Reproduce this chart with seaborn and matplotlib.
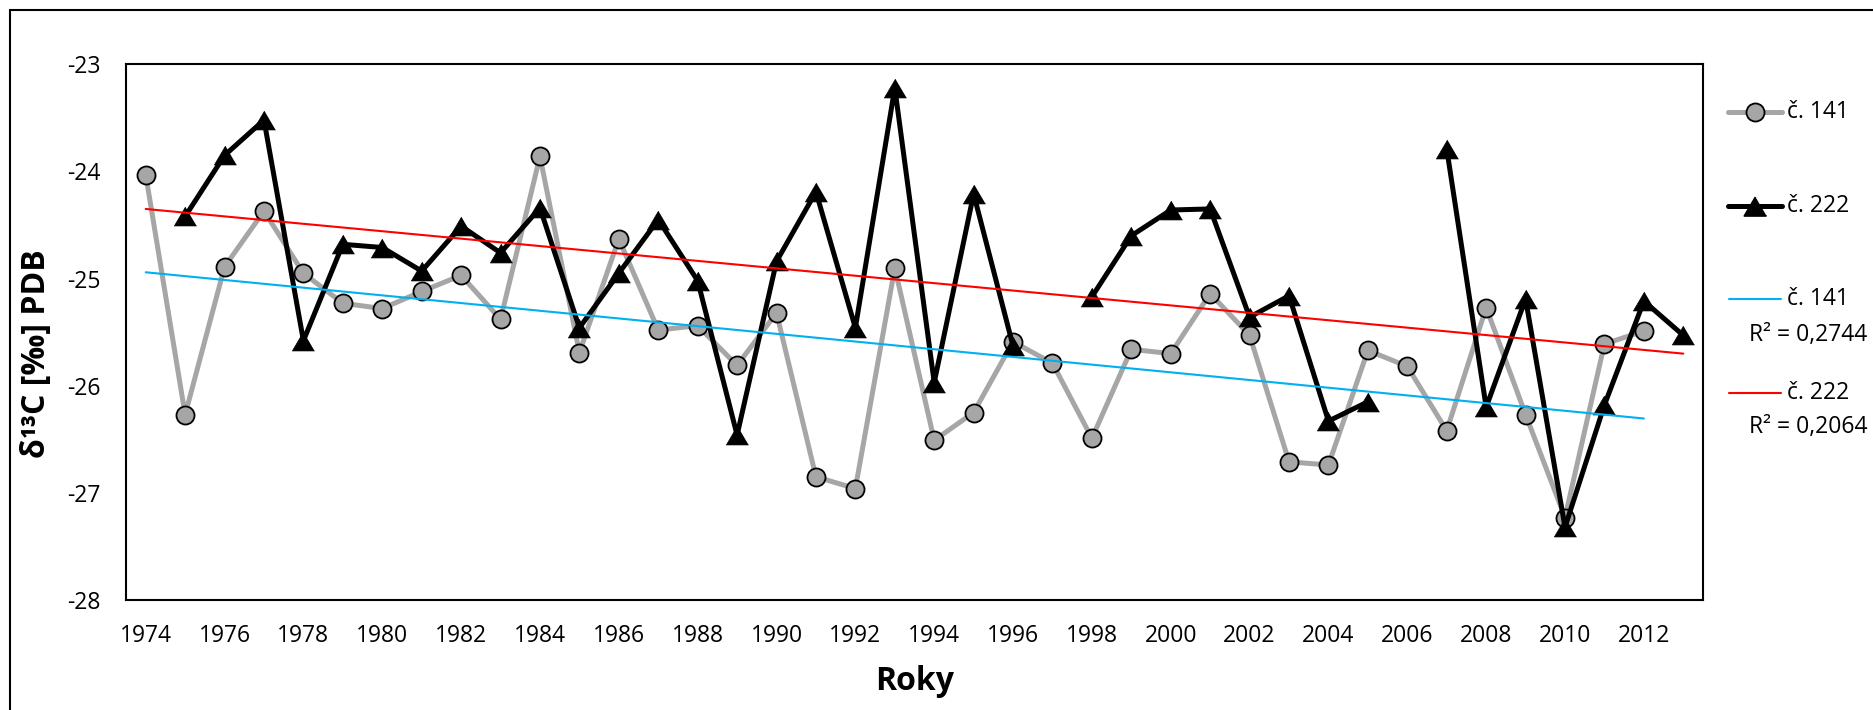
import numpy as np
import pandas as pd
import matplotlib
matplotlib.use("Agg")
import matplotlib.pyplot as plt
from matplotlib.lines import Line2D
from matplotlib.patches import Rectangle
import seaborn as sns

# Annual δ13C values for two trees, 1974–2013 (nan = no measurement)
years = list(range(1974, 2014))
c141 = [-24.03, -26.27, -24.89, -24.37, -24.95, -25.23, -25.28, -25.12, -24.97, -25.38,
        -23.86, -25.69, -24.63, -25.48, -25.44, -25.81, -25.32, -26.85, -26.96, -24.90,
        -26.51, -26.25, -25.59, -25.79, -26.49, -25.66, -25.70, -25.14, -25.53, -26.71,
        -26.74, -25.67, -25.82, -26.42, -25.27, -26.27, -27.23, -25.61, -25.49, np.nan]
c222 = [np.nan, -24.42, -23.85, -23.52, -25.58, -24.68, -24.71, -24.93, -24.51, -24.76,
        -24.34, -25.46, -24.95, -24.45, -25.02, -26.46, -24.84, -24.19, -25.46, -23.22,
        -25.97, -24.21, -25.63, np.nan, -25.17, -24.60, -24.36, -24.35, -25.36, -25.16,
        -26.33, -26.15, np.nan, -23.79, -26.20, -25.19, -27.32, -26.18, -25.21, -25.53]
series_names = ["č. 141", "č. 222"]
r2_labels = ["R² = 0,2744", "R² = 0,2064"]
y_ticks = [-28, -27, -26, -25, -24, -23]
x_ticks = list(range(1974, 2013, 2))
x_label = "Roky"
y_label = "δ¹³C [‰] PDB"

GRAY = "#A6A6A6"
BLACK = "#000000"
CYAN = "#00B0F0"
RED = "#FF0000"
TRI = [(0, 0.85), (-1, -0.85), (1, -0.85)]
FS = 16.5

sns.set_theme(style="white")
plt.rcParams["font.family"] = ["Open Sans", "DejaVu Sans"]
plt.rcParams["axes.unicode_minus"] = False

W, H = 1874, 710
fig = plt.figure(figsize=(W / 100, H / 100), dpi=100)
ax = fig.add_axes([126 / W, 1 - 600 / H, (1703 - 126) / W, (600 - 64.3) / H])


def frame(values):
    vals = np.asarray(values, dtype=float)
    # a new run starts after every missing year, so the line breaks there
    return pd.DataFrame({"year": years, "value": vals, "run": np.cumsum(np.isnan(vals))})


d141 = frame(c141)
d222 = frame(c222)

sns.lineplot(data=d141, x="year", y="value", units="run", estimator=None, ax=ax,
             color=GRAY, lw=3.6, marker="o", markersize=13, markerfacecolor=GRAY,
             markeredgecolor=BLACK, markeredgewidth=1.3, legend=False, zorder=2)
sns.lineplot(data=d222, x="year", y="value", units="run", estimator=None, ax=ax,
             color=BLACK, lw=3.6, marker=TRI, markersize=16, markerfacecolor=BLACK,
             markeredgecolor=BLACK, markeredgewidth=0.5, legend=False, zorder=3)

# linear trends over each series' year span
for df, color in ((d141, CYAN), (d222, RED)):
    ok = df["value"].notna()
    slope, icpt = np.polyfit(df.loc[ok, "year"], df.loc[ok, "value"], 1)
    last = df.loc[ok, "year"].max()
    xs = np.array([years[0], last], dtype=float)
    sns.lineplot(x=xs, y=slope * xs + icpt, ax=ax, color=color, lw=1.5, zorder=4)

ax.set_xlim(1973.5, 2013.5)
ax.set_ylim(-28, -23)
ax.set_xticks(x_ticks)
ax.set_xticklabels([str(t) for t in x_ticks])
ax.set_yticks(y_ticks)
ax.set_yticklabels([str(t) for t in y_ticks])
ax.tick_params(axis="both", length=0, labelsize=FS, colors=BLACK)
ax.tick_params(axis="x", pad=17.5)
ax.tick_params(axis="y", pad=18)
for sp in ax.spines.values():
    sp.set_visible(True)
    sp.set_color(BLACK)
    sp.set_linewidth(1.5)
ax.grid(False)

ax.set_xlabel(x_label, fontsize=23, fontweight="bold", color=BLACK)
ax.xaxis.label.set_va("center")
ax.xaxis.set_label_coords(915 / W, 1 - 681 / H, transform=fig.transFigure)
ax.set_ylabel(y_label, fontsize=23, fontweight="bold", color=BLACK)
ax.yaxis.label.set_va("center")
ax.yaxis.set_label_coords(37 / W, 1 - 354 / H, transform=fig.transFigure)

# legend drawn in the right margin
tf = fig.transFigure


def fy(py):
    return 1 - py / H


entries = [
    (112, GRAY, 3.6, "o", 13, GRAY),
    (206, BLACK, 3.6, TRI, 16, BLACK),
]
for (py, color, lw, mk, ms, fc), name in zip(entries, series_names):
    fig.add_artist(Line2D([1728 / W, 1755 / W, 1782 / W], [fy(py)] * 3, transform=tf,
                          color=color, lw=lw, solid_capstyle="round", marker=mk,
                          markersize=ms, markevery=[1], markerfacecolor=fc,
                          markeredgecolor=BLACK, markeredgewidth=1.3))
    fig.text(1787 / W, fy(py), name, fontsize=FS, va="center", ha="left", color=BLACK)

for (py, py2, color), name, r2 in zip(((299, 335, CYAN), (393, 427, RED)), series_names, r2_labels):
    fig.add_artist(Line2D([1729 / W, 1781 / W], [fy(py)] * 2, transform=tf, color=color, lw=1.5))
    fig.text(1787 / W, fy(py), name, fontsize=FS, va="center", ha="left", color=BLACK)
    fig.text(1749 / W, fy(py2), r2, fontsize=FS, va="center", ha="left", color=BLACK)

# chart-area border
fig.add_artist(Rectangle((10 / W, -0.1), 1.2, 1 - 10 / H + 0.1, transform=tf,
                         fill=False, lw=1.5, edgecolor=BLACK))

fig.savefig("out.png", dpi=100, facecolor="white")
